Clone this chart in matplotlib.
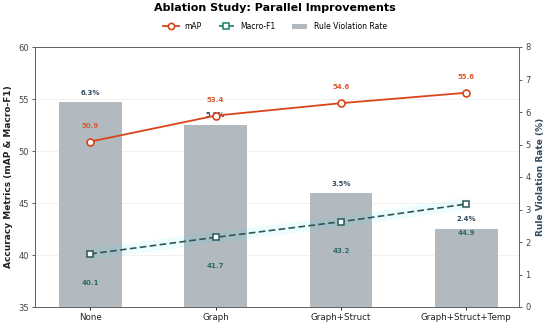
import matplotlib
matplotlib.use("Agg")
import matplotlib.pyplot as plt
from matplotlib.lines import Line2D
from matplotlib.patches import Patch
import numpy as np

categories = ["None", "Graph", "Graph+Struct", "Graph+Struct+Temp"]
map_vals = [50.9, 53.4, 54.6, 55.6]
f1_vals = [40.1, 41.7, 43.2, 44.9]
viol_vals = [6.3, 5.6, 3.5, 2.4]

c_map = "#D9441A"
c_f1_line = "#2F5556"
c_f1_mark = "#17806D"
c_bar = "#B2BAC0"

fig = plt.figure(figsize=(5.5, 3.25), dpi=100)
ax1 = fig.add_axes([35 / 550, 18 / 325, 484 / 550, 260 / 325])
ax2 = ax1.twinx()
ax3 = ax1.twinx()
x = np.arange(len(categories))

# grid on the bottom axes
ax1.set_ylim(35, 60)
ax1.set_xlim(-0.44, 3.42)
ax1.grid(axis="y", color="#EBEBEB", linewidth=0.5)
ax1.set_axisbelow(True)

# bars in the middle
ax2.bar(x, viol_vals, width=0.5, color=c_bar, zorder=1)
ax2.set_ylim(0, 8)
for xi, v in zip(x, viol_vals):
    ax2.annotate(f"{v}%", (xi, v), xytext=(0, 7), textcoords="offset points",
                 ha="center", va="center", fontsize=5, fontweight="bold", color="#34495E")

# lines on top
ax3.set_ylim(35, 60)
ax3.axis("off")
ax3.plot(x, f1_vals, color="#00F0F0", alpha=0.07, linewidth=8, solid_capstyle="round", zorder=2)
ax3.plot(x, map_vals, color=c_map, linewidth=1.3, marker="o", markersize=5,
         markerfacecolor="white", markeredgecolor=c_map, markeredgewidth=1.2, zorder=4)
ax3.plot(x, f1_vals, color=c_f1_line, linewidth=1.2, linestyle="--", dashes=(4, 2), marker="s",
         markersize=4.5, markerfacecolor="white", markeredgecolor=c_f1_line,
         markeredgewidth=1.1, zorder=4)

for xi, v in zip(x, map_vals):
    ax3.annotate(f"{v}", (xi, v), xytext=(0, 11.5), textcoords="offset points",
                 ha="center", va="center", fontsize=5, fontweight="bold", color="#DB5A2E")
for xi, v in zip(x, f1_vals):
    ax3.annotate(f"{v}", (xi, v), xytext=(0, -21), textcoords="offset points",
                 ha="center", va="center", fontsize=5, fontweight="bold", color="#2E6B6B")

ax1.set_xticks(x)
ax1.set_xticklabels(categories, fontsize=6.3, color="#222222")
ax1.set_yticks(np.arange(35, 61, 5))
ax1.tick_params(axis="y", labelsize=6, colors="#444444", length=2.5, width=0.6, pad=2)
ax1.tick_params(axis="x", length=2.5, width=0.6, pad=2)
ax2.tick_params(axis="y", labelsize=6, colors="#444444", length=2.5, width=0.6, pad=2)
ax1.set_ylabel("Accuracy Metrics (mAP & Macro-F1)", fontsize=6.5, fontweight="bold",
               color="#222222", labelpad=4)
ax2.set_ylabel("Rule Violation Rate (%)", fontsize=6.5, fontweight="bold", color="#34495E",
               labelpad=4)

for ax in (ax1, ax2):
    for s in ax.spines.values():
        s.set_color("#666666")
        s.set_linewidth(0.7)

fig.suptitle("Ablation Study: Parallel Improvements", fontsize=8, fontweight="bold", y=0.99)

handles = [
    Line2D([0], [0], color=c_map, linewidth=1.3, marker="o", markersize=4.5,
           markerfacecolor="white", markeredgecolor=c_map, markeredgewidth=1.2),
    Line2D([0], [0], color=c_f1_mark, linewidth=1.2, linestyle="--", marker="s", markersize=4,
           markerfacecolor="white", markeredgecolor=c_f1_mark, markeredgewidth=1.1),
    Patch(facecolor=c_bar),
]
fig.legend(handles, ["mAP", "Macro-F1", "Rule Violation Rate"], loc="center",
           bbox_to_anchor=(0.5, 0.918), ncol=3, frameon=False, fontsize=5.5,
           handlelength=2.0, columnspacing=2.2, handletextpad=0.8)

fig.savefig("out.png", dpi=100)
